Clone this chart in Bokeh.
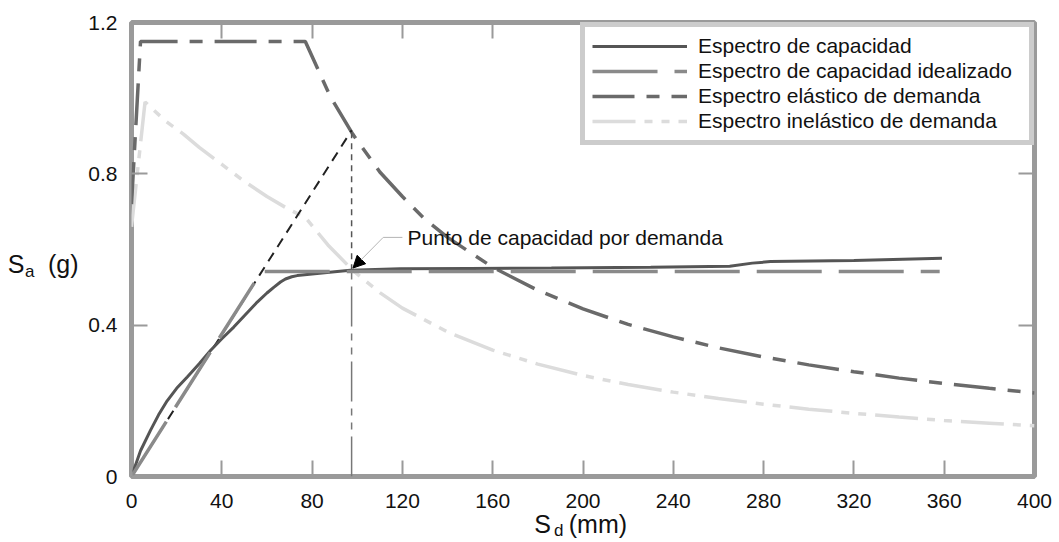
from bokeh.plotting import figure
from bokeh.models import (Legend, LegendItem, LinearAxis, FixedTicker, Label,
                          Arrow, NormalHead, Range1d)
from bokeh.embed import file_html
from bokeh.resources import INLINE

# ---------------- data ----------------
cap_x = [0, 4, 8.4, 12, 15.8, 20, 24.7, 30, 35, 40, 45.3, 50, 55.7, 60, 63, 66,
         68.2, 71, 73.4, 80, 90, 97, 119, 150, 186, 230, 265, 275, 283, 320, 359]
cap_y = [0, 0.068, 0.122, 0.163, 0.20, 0.233, 0.263, 0.298, 0.333, 0.364, 0.395,
         0.425, 0.461, 0.485, 0.50, 0.514, 0.522, 0.528, 0.531, 0.535, 0.541,
         0.545, 0.549, 0.550, 0.551, 0.553, 0.556, 0.564, 0.568, 0.571, 0.577]

ideal_x = [0, 57.6, 358]
ideal_y = [0, 0.542, 0.542]

elas_x = [0, 4, 77, 88, 98, 110, 120, 130, 140, 160, 180, 200, 220, 240, 260,
          280, 300, 320, 340, 360, 380, 400]
elas_y = [0.72, 1.15, 1.15, 1.005, 0.905, 0.805, 0.74, 0.68, 0.632, 0.553, 0.492,
          0.443, 0.402, 0.369, 0.340, 0.316, 0.295, 0.277, 0.260, 0.246, 0.233, 0.221]

inel_x = [0, 6, 15, 23, 30, 40, 50, 60, 70, 77, 87, 98, 110, 120, 140, 160, 180,
          200, 220, 240, 260, 280, 300, 320, 340, 360, 380, 400]
inel_y = [0.66, 0.99, 0.94, 0.905, 0.87, 0.825, 0.78, 0.74, 0.705, 0.685, 0.612,
          0.545, 0.486, 0.445, 0.382, 0.334, 0.297, 0.267, 0.243, 0.223, 0.206,
          0.191, 0.178, 0.167, 0.157, 0.148, 0.141, 0.134]

init_x = [0, 97.5]          # extension of initial stiffness
init_y = [0, 0.915]

dp_x = 97.5                 # performance point
dp_y = 0.545

x_ticks = [0, 40, 80, 120, 160, 200, 240, 280, 320, 360, 400]
y_ticks = [0, 0.4, 0.8, 1.2]
y_tick_labels = ["0", "0.4", "0.8", "1.2"]

series_names = ["Espectro de capacidad", "Espectro de capacidad idealizado",
                "Espectro elástico de demanda", "Espectro inelástico de demanda"]
annot_text = "Punto de capacidad por demanda"
x_title = ["S", "d", "(mm)"]
y_title = ["S", "a", "(g)"]

FONT = "Liberation Sans"
FRAME = "#9a9a9a"
INK = "#111111"

p = figure(width=1059, height=542, x_range=Range1d(0, 400), y_range=Range1d(0, 1.2),
           output_backend="svg", toolbar_location=None,
           min_border_left=131, min_border_right=25, min_border_top=22, min_border_bottom=66)
p.grid.visible = False
p.outline_line_color = FRAME
p.outline_line_width = 5
p.background_fill_color = "white"
p.border_fill_color = "white"

top_axis = LinearAxis()
right_axis = LinearAxis()
p.add_layout(top_axis, "above")
p.add_layout(right_axis, "right")

def style(ax, ticks, show):
    ax.ticker = FixedTicker(ticks=ticks)
    ax.axis_line_color = None
    ax.major_tick_in = 16
    ax.major_tick_out = 0
    ax.major_tick_line_color = FRAME
    ax.major_tick_line_width = 2
    ax.minor_tick_line_color = None
    ax.major_label_text_font = FONT
    ax.major_label_text_color = INK
    if show:
        ax.major_label_text_font_size = "21px"
    else:
        ax.major_label_overrides = {t: "" for t in ticks}
        ax.major_label_text_font_size = "0px"
        ax.major_label_standoff = 0

style(p.below[0], x_ticks, True)
style(top_axis, x_ticks, False)
style(p.left[0], y_ticks, True)
style(right_axis, y_ticks, False)
p.below[0].major_label_standoff = 17
p.left[0].major_label_standoff = 14
p.left[0].major_label_overrides = dict(zip(y_ticks, y_tick_labels))

# axis titles with subscripts, built from extra label-only axes
def title_axis(place, ticks, labels, size, standoff):
    ax = LinearAxis(ticker=FixedTicker(ticks=ticks),
                    major_label_overrides=dict(zip(ticks, labels)),
                    axis_line_color=None, major_tick_line_color=None,
                    minor_tick_line_color=None, major_tick_in=0, major_tick_out=0,
                    major_label_standoff=standoff, major_label_text_font=FONT,
                    major_label_text_font_size=size, major_label_text_color=INK)
    p.add_layout(ax, place)

title_axis("below", [182.1, 206.6], [x_title[0], x_title[2]], "25px", -1)
title_axis("below", [189.3], [x_title[1]], "17px", -20)
title_axis("left", [0.5604], [y_title[2]], "25px", 7)
title_axis("left", [0.5416], [y_title[1]], "17px", 10)
title_axis("left", [0.5604], [y_title[0]], "25px", -2)

# ---------------- lines ----------------
r_inel = p.line(inel_x, inel_y, line_color="#dcdcdc", line_width=3.5,
                line_dash="43 9 8 9 8 9")
r_elas = p.line(elas_x, elas_y, line_color="#6a6a6a", line_width=3.5,
                line_dash="42 12 13 12")
p.line(init_x, init_y, line_color="#222222", line_width=2, line_dash="10 7")
p.line([dp_x, dp_x], [0, dp_y], line_color="#777777", line_width=1.5,
       line_dash="40 7 7 7 7 7")
p.line([dp_x, dp_x], [dp_y, init_y[1]], line_color="#555555", line_width=1.5,
       line_dash="6 5")
r_cap = p.line(cap_x, cap_y, line_color="#555555", line_width=3)
r_ideal = p.line(ideal_x, ideal_y, line_color="#8a8a8a", line_width=3.5,
                 line_dash="65 17")

# ---------------- annotation ----------------
p.line([dp_x + 14, dp_x + 22.5], [dp_y + 0.087, dp_y + 0.087],
       line_color="#b5b5b5", line_width=1)
p.add_layout(Arrow(end=NormalHead(size=12, fill_color="black", line_color="black"),
                   x_start=dp_x + 14, y_start=dp_y + 0.087,
                   x_end=dp_x + 0.6, y_end=dp_y + 0.006,
                   line_color="#b5b5b5", line_width=1))
p.add_layout(Label(x=dp_x + 24.8, y=dp_y + 0.087, text=annot_text,
                   text_baseline="middle", text_font=FONT, text_font_size="21px",
                   text_color=INK))

# ---------------- legend ----------------
legend = Legend(items=[LegendItem(label=series_names[0], renderers=[r_cap]),
                       LegendItem(label=series_names[1], renderers=[r_ideal]),
                       LegendItem(label=series_names[2], renderers=[r_elas]),
                       LegendItem(label=series_names[3], renderers=[r_inel])],
                location="top_right", margin=0, padding=7, spacing=1,
                glyph_width=95, glyph_height=24, label_height=24, label_standoff=11,
                label_width=324,
                label_text_font=FONT, label_text_font_size="21px",
                label_text_color=INK,
                border_line_color=FRAME, border_line_width=5,
                background_fill_color="white", background_fill_alpha=1.0)
p.add_layout(legend)

open("out.html", "w").write(file_html(p, INLINE))
